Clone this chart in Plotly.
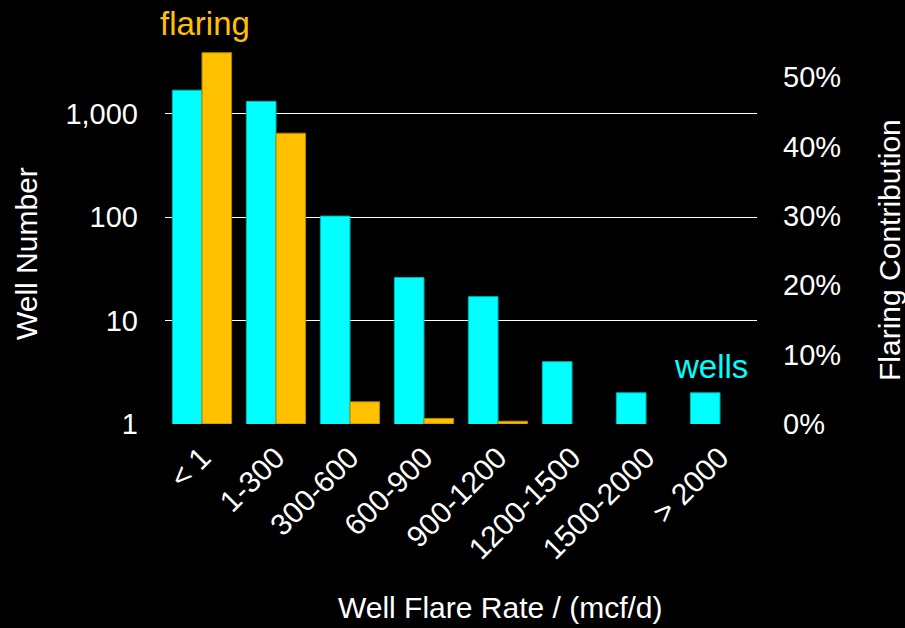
import plotly.graph_objects as go

# Flare-rate classes (mcf/d)
categories = ["< 1", "1-300", "300-600", "600-900", "900-1200",
              "1200-1500", "1500-2000", "> 2000"]

# Number of wells in each class (left, log axis)
wells = [1680, 1310, 102, 26, 17, 4, 2, 2]

# Share of total flared volume in each class, percent (right axis)
flaring = [53.5, 41.9, 3.2, 0.8, 0.4, 0, 0, 0]

well_ticks = [1, 10, 100, 1000]
well_tick_text = ["1", "10", "100", "1,000"]
grid_vals = [10, 100, 1000]
pct_ticks = [0, 10, 20, 30, 40, 50]
pct_tick_text = [f"{v}%" for v in pct_ticks]

CYAN = "#00FFFF"
GOLD = "#FFC000"
FONT = "Liberation Sans, Arial, Helvetica, sans-serif"

W, H = 905, 628
L, R, T, B = 165, 148, 40, 204
plot_w = W - L - R
plot_h = H - T - B


def px(x):
    return (x - L) / plot_w


def py(y):
    return (H - B - y) / plot_h


def label(text, x, y, size, color, angle=0):
    return dict(text=text, x=px(x), y=py(y), xref="paper", yref="paper",
                xanchor="center", yanchor="middle", showarrow=False,
                textangle=angle, font=dict(size=size, color=color))


fig = go.Figure()
fig.add_trace(go.Bar(
    x=categories, y=wells, name="wells", yaxis="y", offsetgroup="wells",
    marker=dict(color=CYAN, line=dict(color="#00b5b5", width=1)),
))
fig.add_trace(go.Bar(
    x=categories, y=flaring, name="flaring", yaxis="y2", offsetgroup="flaring",
    marker=dict(color=GOLD,
                line=dict(color="#b08400",
                          width=[1 if v > 0 else 0 for v in flaring])),
))
# grid-only overlay so no rule is drawn along the baseline
fig.add_trace(go.Scatter(x=[categories[0]], y=[None], yaxis="y3",
                         showlegend=False, hoverinfo="skip"))

log_top = plot_h / 103.5

fig.update_layout(
    width=W, height=H,
    margin=dict(l=L, r=R, t=T, b=B, pad=0),
    paper_bgcolor="black", plot_bgcolor="black",
    font=dict(family=FONT, color="white", size=30),
    showlegend=False,
    barmode="group", bargap=0.2, bargroupgap=0,
    xaxis=dict(
        type="category", showgrid=False, showline=False, zeroline=False,
        tickangle=-45, ticks="", tickfont=dict(size=30, color="white"),
        range=[-0.5, len(categories) - 0.5], ticklabelstandoff=9,
    ),
    yaxis=dict(
        type="log", range=[0, log_top], tickvals=well_ticks, ticktext=well_tick_text,
        showgrid=False, zeroline=False, showline=False, ticks="",
        tickfont=dict(size=29, color="white"), ticklabelstandoff=26,
    ),
    yaxis2=dict(
        overlaying="y", side="right", range=[0, plot_h / 6.94],
        tickvals=pct_ticks, ticktext=pct_tick_text, showgrid=False,
        zeroline=False, showline=False, ticks="",
        tickfont=dict(size=29, color="white"), ticklabelstandoff=25,
    ),
    yaxis3=dict(
        overlaying="y", type="log", range=[0, log_top], tickvals=grid_vals,
        showticklabels=False, showgrid=True, gridcolor="white", gridwidth=1,
        zeroline=False, showline=False, ticks="",
    ),
    annotations=[
        label("flaring", 205, 24, 33, GOLD),
        label("wells", 711, 366, 33, CYAN),
        label("Well Number", 26, 254, 30, "white", -90),
        label("Flaring Contribution", 889, 250, 30, "white", -90),
        label("Well Flare Rate / (mcf/d)", 500, 607, 30, "white"),
    ],
)

fig.write_html("out.html")
